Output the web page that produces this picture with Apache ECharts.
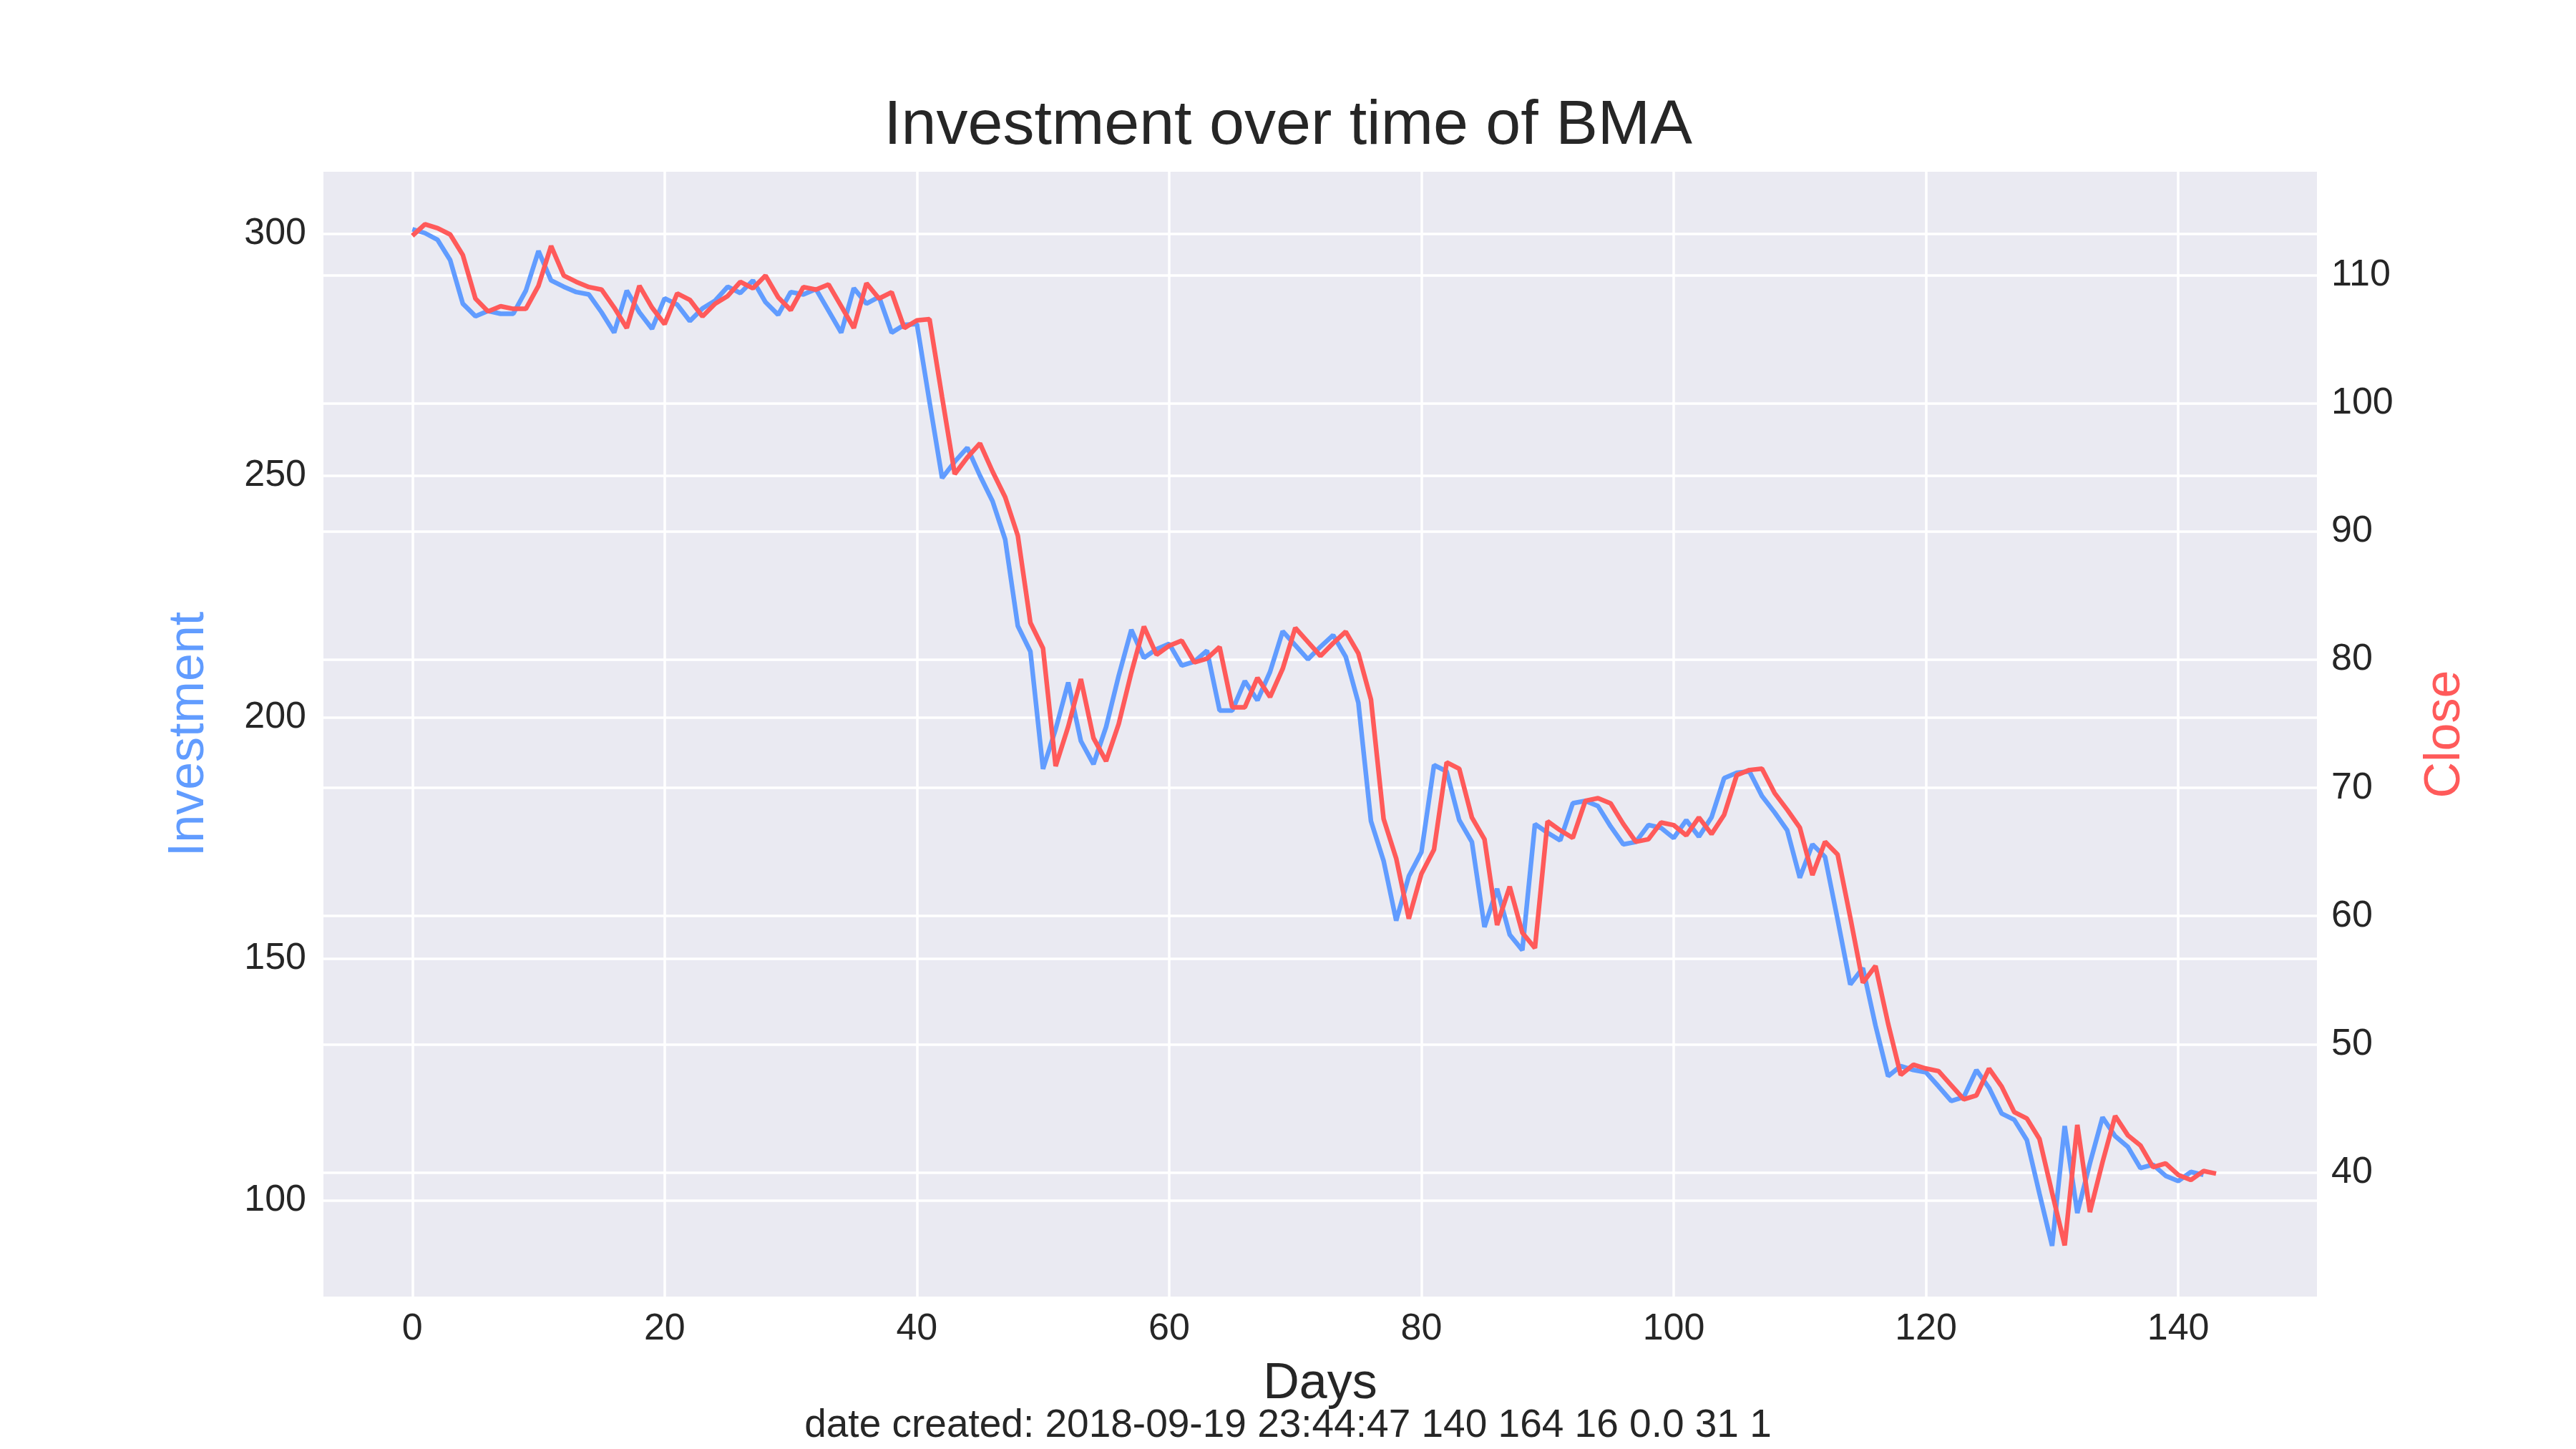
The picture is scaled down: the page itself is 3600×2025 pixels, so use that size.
<!DOCTYPE html>
<html>
<head>
<meta charset="utf-8">
<script src="https://cdn.jsdelivr.net/npm/echarts@6/dist/echarts.min.js"></script>
<style>
html, body { margin: 0; padding: 0; background: #fff; }
#chart { width: 3600px; height: 2025px; }
</style>
</head>
<body>
<div id="chart"></div>
<script>
'use strict';

// Close price per day (0..143)
var closeValues = [
    113.1, 114.0, 113.7, 113.2, 111.6, 108.2, 107.2, 107.6, 107.4, 107.4,
    109.2, 112.3, 110.0, 109.5, 109.1, 108.9, 107.5, 105.9, 109.2, 107.5,
    106.2, 108.6, 108.1, 106.8, 107.8, 108.4, 109.5, 109.0, 110.0, 108.3,
    107.3, 109.1, 108.9, 109.3, 107.6, 105.9, 109.4, 108.2, 108.7, 105.9,
    106.5, 106.6, 100.5, 94.5, 95.8, 96.9, 94.7, 92.7, 89.7, 82.9,
    80.9, 71.7, 74.8, 78.5, 73.9, 72.1, 75.0, 79.0, 82.6, 80.4,
    81.1, 81.5, 79.8, 80.1, 81.0, 76.3, 76.3, 78.6, 77.1, 79.3,
    82.5, 81.4, 80.3, 81.3, 82.2, 80.5, 76.9, 67.6, 64.5, 59.8,
    63.3, 65.2, 72.0, 71.5, 67.7, 66.0, 59.3, 62.3, 58.7, 57.5,
    67.4, 66.7, 66.1, 69.0, 69.2, 68.8, 67.2, 65.8, 66.0, 67.3,
    67.1, 66.3, 67.7, 66.4, 67.9, 71.0, 71.4, 71.5, 69.6, 68.3,
    66.9, 63.2, 65.8, 64.8, 59.9, 54.8, 56.1, 51.6, 47.6, 48.4,
    48.1, 47.9, 46.8, 45.7, 46.0, 48.1, 46.7, 44.7, 44.2, 42.6,
    38.4, 34.3, 43.7, 36.9, 40.8, 44.4, 42.9, 42.1, 40.4, 40.7,
    39.8, 39.4, 40.1, 39.9
];

// Investment per day (0..142)
var investmentValues = [
    301.0, 300.2, 298.8, 294.6, 285.6, 283.0, 284.1, 283.5, 283.5, 288.3,
    296.5, 290.4, 289.1, 288.0, 287.5, 283.8, 279.6, 288.3, 283.8, 280.4,
    286.7, 285.4, 282.0, 284.6, 286.2, 289.1, 287.8, 290.4, 285.9, 283.3,
    288.0, 287.5, 288.6, 284.1, 279.6, 288.8, 285.6, 287.0, 279.6, 281.2,
    281.4, 265.3, 249.5, 252.9, 255.8, 250.0, 244.7, 236.8, 218.9, 213.6,
    189.3, 197.5, 207.2, 195.1, 190.3, 198.0, 208.6, 218.1, 212.3, 214.1,
    215.2, 210.7, 211.5, 213.8, 201.4, 201.4, 207.5, 203.5, 209.4, 217.8,
    214.9, 212.0, 214.6, 217.0, 212.5, 203.0, 178.5, 170.3, 157.9, 167.1,
    172.1, 190.1, 188.8, 178.7, 174.2, 156.6, 164.5, 155.0, 151.8, 177.9,
    176.1, 174.5, 182.2, 182.7, 181.6, 177.4, 173.7, 174.2, 177.7, 177.1,
    175.0, 178.7, 175.3, 179.3, 187.4, 188.5, 188.8, 183.7, 180.3, 176.6,
    166.8, 173.7, 171.1, 158.1, 144.7, 148.1, 136.2, 125.7, 127.8, 127.0,
    126.5, 123.6, 120.6, 121.4, 127.0, 123.3, 118.0, 116.7, 112.5, 101.4,
    90.6, 115.4, 97.4, 107.7, 117.2, 113.3, 111.1, 106.7, 107.4, 105.1,
    104.0, 105.9, 105.3
];

var dayTicks = [0, 20, 40, 60, 80, 100, 120, 140];
var investmentTicks = [100, 150, 200, 250, 300];
var closeTicks = [40, 50, 60, 70, 80, 90, 100, 110];

var FONT = 'Liberation Sans, Arial, sans-serif';
var TEXT = '#262626';
var BLUE = '#619CFF';
var RED = '#FF5A5A';

var toPairs = function (values) {
    return values.map(function (v, i) { return [i, v]; });
};

var valueAxis = function (opts) {
    var axis = {
        type: 'value',
        min: opts.min,
        max: opts.max,
        axisLine: { show: false },
        axisTick: { show: false, customValues: opts.ticks },
        axisLabel: {
            customValues: opts.ticks,
            color: TEXT,
            fontFamily: FONT,
            fontSize: 52,
            margin: opts.margin
        },
        splitLine: { show: true, lineStyle: { color: '#ffffff', width: 3.5 } }
    };
    if (opts.name) {
        axis.name = opts.name;
        axis.nameLocation = 'middle';
        axis.nameGap = opts.nameGap;
        axis.nameTextStyle = { color: opts.nameColor, fontFamily: FONT, fontSize: 70 };
    }
    if (opts.position) {
        axis.position = opts.position;
    }
    return axis;
};

var chart = echarts.init(document.getElementById('chart'));

chart.setOption({
    backgroundColor: '#ffffff',
    animation: false,
    title: {
        text: 'Investment over time of BMA',
        left: 'center',
        top: 128,
        textStyle: { color: TEXT, fontFamily: FONT, fontSize: 88, fontWeight: 'normal' }
    },
    graphic: [{
        type: 'text',
        left: 'center',
        top: 1965,
        style: {
            text: 'date created: 2018-09-19 23:44:47 140 164 16 0.0 31 1',
            fill: TEXT,
            font: '55px ' + FONT
        }
    }],
    grid: {
        left: 452,
        right: 362,
        top: 240,
        bottom: 213,
        show: true,
        backgroundColor: '#EAEAF2',
        borderWidth: 0
    },
    xAxis: valueAxis({
        min: -7.05,
        max: 151,
        ticks: dayTicks,
        margin: 20,
        name: 'Days',
        nameGap: 88,
        nameColor: TEXT
    }),
    yAxis: [
        valueAxis({
            min: 80.1,
            max: 312.9,
            ticks: investmentTicks,
            margin: 24,
            name: 'Investment',
            nameGap: 152,
            nameColor: BLUE,
            position: 'left'
        }),
        valueAxis({
            min: 30.3,
            max: 118.1,
            ticks: closeTicks,
            margin: 20,
            name: 'Close',
            nameGap: 145,
            nameColor: RED,
            position: 'right'
        })
    ],
    series: [{
        name: 'Investment',
        type: 'line',
        yAxisIndex: 0,
        data: toPairs(investmentValues),
        showSymbol: false,
        lineStyle: { color: BLUE, width: 6.5 },
        z: 2
    }, {
        name: 'Close',
        type: 'line',
        yAxisIndex: 1,
        data: toPairs(closeValues),
        showSymbol: false,
        lineStyle: { color: RED, width: 6.5 },
        z: 3
    }]
});
</script>
</body>
</html>
